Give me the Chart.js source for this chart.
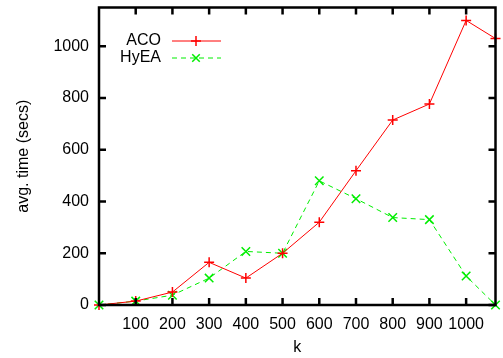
<!DOCTYPE html>
<html>
<head>
<meta charset="utf-8">
<script src="https://cdn.jsdelivr.net/npm/chart.js@4"></script>
<style>
  html, body { margin: 0; padding: 0; background: #fff; }
  #wrap { width: 503px; height: 358px; }
</style>
</head>
<body>
<div id="wrap"><canvas id="chart" width="503" height="358"></canvas></div>
<script>
const kValues = [0, 100, 200, 300, 400, 500, 600, 700, 800, 900, 1000, 1080];
const acoTimes = [0, 15, 50, 165, 104, 200, 320, 519, 715, 777, 1100, 1030];
const hyeaTimes = [0, 15, 38, 104, 207, 200, 480, 411, 338, 330, 112, 0];
const xTicks = [100, 200, 300, 400, 500, 600, 700, 800, 900, 1000];
const yTicks = [0, 200, 400, 600, 800, 1000];

const FONT = 'Liberation Sans, Arial, sans-serif';

// gnuplot-style frame with inward ticks on all four sides
const framePlugin = {
  id: 'frame',
  afterDatasetsDraw(chart) {
    const { ctx, chartArea: a, scales } = chart;
    ctx.save();
    ctx.strokeStyle = '#000';
    ctx.lineWidth = 2.5;
    ctx.beginPath();
    xTicks.forEach(v => {
      const x = scales.x.getPixelForValue(v);
      ctx.moveTo(x, a.bottom); ctx.lineTo(x, a.bottom - 7);
      ctx.moveTo(x, a.top); ctx.lineTo(x, a.top + 7);
    });
    yTicks.forEach(v => {
      const y = scales.y.getPixelForValue(v);
      ctx.moveTo(a.left, y); ctx.lineTo(a.left + 7, y);
      ctx.moveTo(a.right, y); ctx.lineTo(a.right - 7, y);
    });
    ctx.stroke();
    ctx.strokeRect(a.left, a.top, a.right - a.left, a.bottom - a.top);
    ctx.restore();
  }
};

const keyPlugin = {
  id: 'key',
  afterDraw(chart) {
    const { ctx } = chart;
    ctx.save();
    ctx.font = '16px ' + FONT;
    ctx.textAlign = 'right';
    ctx.textBaseline = 'middle';
    chart.data.datasets.forEach((ds, i) => {
      const y = 41 + i * 17;
      ctx.fillStyle = '#000';
      ctx.fillText(ds.label, 161, y);
      ctx.strokeStyle = ds.borderColor;
      ctx.lineWidth = 1;
      ctx.setLineDash(ds.borderDash || []);
      ctx.beginPath();
      ctx.moveTo(172, y); ctx.lineTo(221, y);
      ctx.stroke();
      ctx.setLineDash([]);
      ctx.lineWidth = 1.5;
      const r = 5;
      ctx.beginPath();
      if (ds.pointStyle === 'cross') {
        ctx.moveTo(196 - r, y); ctx.lineTo(196 + r, y);
        ctx.moveTo(196, y - r); ctx.lineTo(196, y + r);
      } else {
        const d = r * 0.75;
        ctx.moveTo(196 - d, y - d); ctx.lineTo(196 + d, y + d);
        ctx.moveTo(196 - d, y + d); ctx.lineTo(196 + d, y - d);
      }
      ctx.stroke();
    });
    ctx.restore();
  }
};

new Chart(document.getElementById('chart'), {
  type: 'line',
  data: {
    datasets: [
      {
        label: 'ACO',
        data: kValues.map((k, i) => ({ x: k, y: acoTimes[i] })),
        borderColor: '#ff0000',
        backgroundColor: '#ff0000',
        borderWidth: 1,
        pointStyle: 'cross',
        pointRadius: 5,
        pointBorderWidth: 1.5,
        tension: 0,
        clip: false
      },
      {
        label: 'HyEA',
        data: kValues.map((k, i) => ({ x: k, y: hyeaTimes[i] })),
        borderColor: '#00ee00',
        backgroundColor: '#00ee00',
        borderWidth: 1,
        borderDash: [5, 4],
        pointStyle: 'crossRot',
        pointRadius: 6,
        pointBorderWidth: 1.5,
        tension: 0,
        clip: false
      }
    ]
  },
  options: {
    responsive: false,
    animation: false,
    layout: { padding: { top: 6, right: 2, left: 0, bottom: 0 } },
    plugins: { legend: { display: false }, tooltip: { enabled: false } },
    scales: {
      x: {
        type: 'linear',
        min: 0,
        max: 1080,
        afterBuildTicks: s => { s.ticks = xTicks.map(v => ({ value: v })); },
        afterFit: s => { s.height = 53; s.paddingLeft = 0; s.paddingRight = 0; },
        grid: { display: false, drawTicks: false },
        border: { display: false },
        ticks: { color: '#000', font: { family: FONT, size: 16 }, padding: 10, maxRotation: 0, callback: v => String(v) },
        title: { display: true, text: 'k', color: '#000', font: { family: FONT, size: 16 }, padding: { top: 0, bottom: 1 } }
      },
      y: {
        type: 'linear',
        min: 0,
        max: 1150,
        afterBuildTicks: s => { s.ticks = yTicks.map(v => ({ value: v })); },
        afterFit: s => { s.width = 99; s.paddingTop = 0; s.paddingBottom = 0; },
        grid: { display: false, drawTicks: false },
        border: { display: false },
        ticks: { color: '#000', font: { family: FONT, size: 16 }, padding: 10, callback: v => String(v) },
        title: { display: true, text: 'avg. time (secs)', color: '#000', font: { family: FONT, size: 16 }, padding: { bottom: 0, top: 14 } }
      }
    }
  },
  plugins: [framePlugin, keyPlugin]
});
</script>
</body>
</html>
